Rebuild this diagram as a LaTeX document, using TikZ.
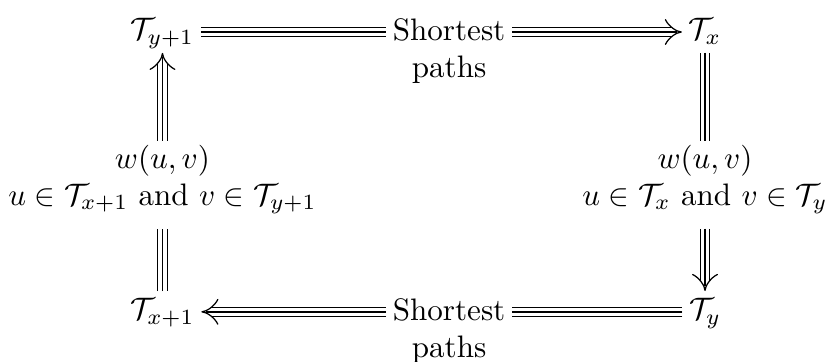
\documentclass[tikz,border=0pt]{standalone}
\usepackage{amsmath,amssymb}
\usetikzlibrary{arrows.meta,positioning,calc}
\tikzset{
	tnode/.style={inner xsep=2pt, inner ysep=1pt, text height=8pt, text depth=3pt},
	pbox/.style={align=center, inner sep=2pt},
	lbox/.style={align=center, inner xsep=3pt, inner ysep=2pt},
	midline/.style={draw, -, double=black, line width=0.1pt, double distance=0.2pt},
	tline/.style={double, double distance=2.6pt, line width=0.4pt, postaction={midline}},
	tarr/.style={double, double distance=2.6pt, line width=0.4pt, -{Implies},
		postaction={midline, shorten >=1.5pt}}
}
\begin{document}
\begin{tikzpicture}
	\useasboundingbox (0,0) rectangle (9.40,4.09);
	% corners
	\node[tnode, anchor=base] (tyy) at (1.838,3.64) {$\mathcal{T}_{y+1}$};
	\node[tnode, anchor=base] (tx) at (7.975,3.64) {$\mathcal{T}_{x}$};
	\node[tnode, anchor=base] (txx) at (1.838,0.475) {$\mathcal{T}_{x+1}$};
	\node[tnode, anchor=base] (ty) at (7.975,0.475) {$\mathcal{T}_{y}$};
	% labels
	\node[pbox, anchor=north] (sp1) at (5.08,3.96) {Shortest\\paths};
	\node[pbox, anchor=north] (sp2) at (5.08,0.795) {Shortest\\paths};
	\node[lbox] (lw1) at (1.838,2.06) {$w(u,v)$\\$u\in\mathcal{T}_{x+1}$ and $v\in\mathcal{T}_{y+1}$};
	\node[lbox] (lw2) at (7.975,2.06) {$w(u,v)$\\$u\in\mathcal{T}_{x}$ and $v\in\mathcal{T}_{y}$};
	% top
	\draw[tline] (tyy) -- (tyy -| sp1.west);
	\draw[tarr] (tx -| sp1.east) -- (tx);
	% right
	\draw[tline, shorten >=-1pt] (tx) -- (lw2);
	\draw[tarr, shorten <=2.5pt] (lw2) -- (ty);
	% bottom
	\draw[tline] (ty) -- (ty -| sp2.east);
	\draw[tarr] (txx -| sp2.west) -- (txx);
	% left
	\draw[tline, shorten >=2.5pt] (txx) -- (lw1);
	\draw[tarr, shorten <=-1pt] (lw1) -- (tyy);
\end{tikzpicture}
\end{document}
